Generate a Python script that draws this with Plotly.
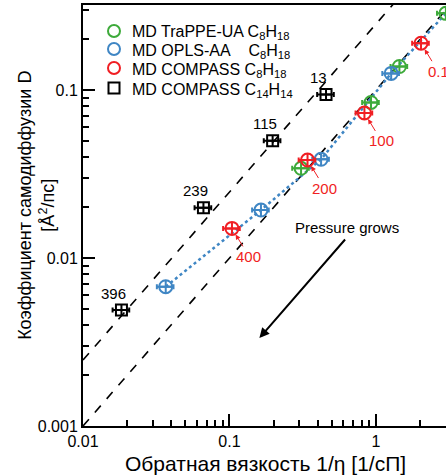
import math
import plotly.graph_objects as go

# ---- data ----
trappe_x = [0.308, 0.925, 1.445, 3.0]
trappe_y = [0.0342, 0.0843, 0.138, 0.286]

opls_x = [0.0367, 0.164, 0.422, 1.27]
opls_y = [0.00675, 0.0193, 0.0387, 0.1256]

compass_x = [0.104, 0.341, 0.834, 2.03]
compass_y = [0.0150, 0.0383, 0.0730, 0.190]
compass_labels = ["400", "200", "100", "0.1"]

c14_x = [0.0183, 0.0664, 0.197, 0.456]
c14_y = [0.0049, 0.0199, 0.0499, 0.094]
c14_labels = ["396", "239", "115", "13"]

fit_x = [0.0367, 0.164, 0.422, 1.27, 3.0]
fit_y = [0.00675, 0.0193, 0.0387, 0.1256, 0.286]

guide_x = [0.01, 3.1]
guide_upper = [0.00247, 0.766]
guide_lower = [0.001, 0.31]

x_ticks = [0.01, 0.1, 1]
x_ticklabels = ["0.01", "0.1", "1"]
y_ticks = [0.001, 0.01, 0.1]
y_ticklabels = ["0.001", "0.01", "0.1"]

NB = "\u00a0"
legend_names = [
    "MD TraPPE-UA C<sub>8</sub>H<sub>18</sub>",
    "MD OPLS-AA" + NB * 4 + "C<sub>8</sub>H<sub>18</sub>",
    "MD COMPASS" + NB + "C<sub>8</sub>H<sub>18</sub>",
    "MD COMPASS" + NB + "C<sub>14</sub>H<sub>14</sub>",
]

GREEN = "#3daa3a"
BLUE = "#3f86c4"
RED = "#f01e23"
BLACK = "#000000"
FONT = "Liberation Sans, Arial, sans-serif"

W, H = 446, 475
ML, MR, MT, MB = 83, 0, 5, 49
PW, PH = W - ML - MR, H - MT - MB

def px2paper(px, py):
    return (px - ML) / PW, (H - MB - py) / PH

L = math.log10

fig = go.Figure()

# dashed guide lines
for gy in (guide_upper, guide_lower):
    fig.add_trace(go.Scatter(x=guide_x, y=gy, mode="lines",
                             line=dict(color=BLACK, width=1.6, dash="dash"),
                             showlegend=False, hoverinfo="skip"))

# dotted fit line
fig.add_trace(go.Scatter(x=fit_x, y=fit_y, mode="lines",
                         line=dict(color=BLUE, width=2.5, dash="dot"),
                         showlegend=False, hoverinfo="skip"))

def pts(x, y, color, symbol, size):
    return go.Scatter(
        x=x, y=y, mode="markers", showlegend=False,
        marker=dict(symbol=symbol, size=size, color=color,
                    line=dict(color=color, width=2)),
        error_x=dict(type="percent", value=13, color=color, thickness=2, width=2.5),
    )

fig.add_trace(pts(trappe_x, trappe_y, GREEN, "circle-cross-open", 13))
fig.add_trace(pts(opls_x, opls_y, BLUE, "circle-cross-open", 13))
fig.add_trace(pts(compass_x, compass_y, RED, "circle-cross-open", 13))
fig.add_trace(pts(c14_x, c14_y, BLACK, "square-cross-open", 11))

annotations = []
shapes = []

# manual legend
legend_colors = [GREEN, BLUE, RED, BLACK]
legend_kinds = ["circle", "circle", "circle", "rect"]
row_y = [31, 49, 68, 88]
for name, col, kind, ry in zip(legend_names, legend_colors, legend_kinds, row_y):
    sx, sy = px2paper(114, ry)
    r = 6 if kind == "circle" else 5.5
    shapes.append(dict(type=kind, xref="paper", yref="paper",
                       xsizemode="pixel", ysizemode="pixel",
                       xanchor=sx, yanchor=sy, x0=-r, x1=r, y0=-r, y1=r,
                       line=dict(color=col, width=2), fillcolor="rgba(0,0,0,0)"))
    tx, ty = px2paper(130, ry)
    annotations.append(dict(x=tx, y=ty, xref="paper", yref="paper", text=name,
                            showarrow=False, xanchor="left", yanchor="middle",
                            yshift=-2, font=dict(size=16, color=BLACK, family=FONT)))

# red pressure labels with arrows (annotation coords on log axes are log10)
for x, y, t in zip(compass_x, compass_y, compass_labels):
    annotations.append(dict(x=L(x), y=L(y), xref="x", yref="y", text=t,
                            showarrow=True, ax=17, ay=28, arrowhead=2,
                            arrowsize=1, arrowwidth=1, arrowcolor=RED,
                            standoff=7, font=dict(color=RED, size=15, family=FONT)))
# black labels
for x, y, t in zip(c14_x, c14_y, c14_labels):
    annotations.append(dict(x=L(x), y=L(y), xref="x", yref="y", text=t,
                            showarrow=False, xshift=-8, yshift=17,
                            font=dict(color=BLACK, size=15, family=FONT)))
# pressure grows
annotations.append(dict(x=L(0.639), y=L(0.0151), xref="x", yref="y", text="Pressure grows",
                        showarrow=False, font=dict(color=BLACK, size=15, family=FONT)))
annotations.append(dict(x=L(0.160), y=L(0.00334), xref="x", yref="y", text="",
                        showarrow=True, ax=87, ay=-100, arrowhead=2, arrowsize=1,
                        arrowwidth=2, arrowcolor=BLACK))
# axis titles
annotations.append(dict(x=0.504, y=-0.088, xref="paper", yref="paper",
                        text="Обратная вязкость 1/η [1/сП]", showarrow=False,
                        xanchor="center", yanchor="middle",
                        font=dict(size=21, color=BLACK, family=FONT)))
annotations.append(dict(x=-0.127, y=0.525, xref="paper", yref="paper",
                        text="Коэффициент самодиффузии D<br>[Å<sup>2</sup>/пс]",
                        showarrow=False, textangle=-90,
                        xanchor="center", yanchor="middle",
                        font=dict(size=18, color=BLACK, family=FONT)))

x_minor = [m * d for d in (0.01, 0.1, 1) for m in range(2, 10)]
y_minor = [m * d for d in (0.001, 0.01, 0.1) for m in range(2, 10)]

fig.update_layout(
    width=W, height=H,
    margin=dict(l=ML, r=MR, t=MT, b=MB),
    plot_bgcolor="white", paper_bgcolor="white",
    font=dict(family=FONT, color=BLACK),
    annotations=annotations,
    shapes=shapes,
    showlegend=False,
    xaxis=dict(type="log", range=[-2, 0.478], showgrid=False, zeroline=False,
               showline=True, linecolor=BLACK, linewidth=2, mirror=True,
               ticks="inside", ticklen=12, tickwidth=1.5, tickcolor=BLACK,
               tickvals=x_ticks, ticktext=x_ticklabels,
               tickfont=dict(size=16, family=FONT, color=BLACK),
               minor=dict(tickvals=x_minor, ticks="inside", ticklen=6,
                          tickwidth=1.5, tickcolor=BLACK, showgrid=False)),
    yaxis=dict(type="log", range=[-3, -0.494], showgrid=False, zeroline=False,
               showline=True, linecolor=BLACK, linewidth=2, mirror=False,
               ticks="inside", ticklen=12, tickwidth=1.5, tickcolor=BLACK,
               tickvals=y_ticks, ticktext=y_ticklabels,
               tickfont=dict(size=16, family=FONT, color=BLACK),
               minor=dict(tickvals=y_minor, ticks="inside", ticklen=6,
                          tickwidth=1.5, tickcolor=BLACK, showgrid=False)),
)

fig.write_html("out.html")
